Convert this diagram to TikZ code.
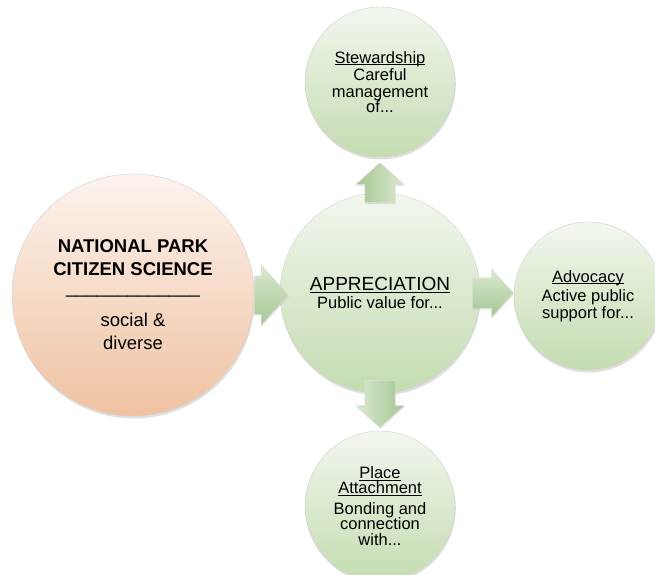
\documentclass[tikz,border=0pt]{standalone}
\usepackage{fontspec}
\setmainfont{Liberation Sans}
\usetikzlibrary{shapes.arrows,shadows}

\definecolor{leafTop}{HTML}{F2F7EE}
\definecolor{leafBot}{HTML}{C4DCB0}
\definecolor{peachTop}{HTML}{FCF3EE}
\definecolor{peachBot}{HTML}{EFC2A0}
\definecolor{flowTop}{HTML}{DAE9CF}
\definecolor{flowBot}{HTML}{A6C693}

\newcommand{\ultitle}[1]{\setbox0=\hbox{#1}\rlap{\rule[-2pt]{\wd0}{0.8pt}}\box0}

\begin{document}
\begin{tikzpicture}[x=1pt,y=-1pt,thin]
        \tikzstyle{bubble}=[circle,draw=black!18,top color=leafTop,bottom color=leafBot,
                            drop shadow={opacity=.25,shadow xshift=.8pt,shadow yshift=-2.5pt},
                            align=center,inner sep=0pt,text=black]
        \tikzstyle{flow}=[single arrow,single arrow head extend=9pt,single arrow tip angle=96,
                          single arrow head indent=0pt,inner xsep=0pt,inner ysep=15pt,
                          draw=black!12,top color=flowTop,bottom color=flowBot,
                          drop shadow={opacity=.2,shadow xshift=.5pt,shadow yshift=-1.5pt}]
        \clip (0,0) rectangle (655,574);
        \node[bubble,minimum size=242pt,top color=peachTop,bottom color=peachBot,
              font=\fontsize{18.5}{23}\selectfont] (park) at (133,295)
            {\bfseries NATIONAL PARK\\\bfseries CITIZEN SCIENCE\\[-5pt]
             \mdseries\_\_\_\_\_\_\_\_\_\_\_\_\_\\[10pt]social \&\\diverse};
        \node[bubble,minimum size=200pt,font=\fontsize{16.5}{18}\selectfont] (apprec) at (380,293)
            {{\fontsize{19}{18}\selectfont\ultitle{APPRECIATION}}\\Public value for...};
        \node[bubble,minimum size=150pt,font=\fontsize{16.5}{16.5}\selectfont] (steward) at (380,82)
            {\ultitle{Stewardship}\\[1pt]Careful\\management\\[-1pt]of...};
        \node[bubble,minimum size=148pt,font=\fontsize{16.5}{16.5}\selectfont] (advoc) at (588,296)
            {\ultitle{Advocacy}\\[3pt]Active public\\support for...};
        \node[bubble,minimum size=150pt,font=\fontsize{16.5}{15.5}\selectfont] (place) at (380,506)
            {\ultitle{Place}\\\ultitle{Attachment}\\[5pt]Bonding and\\connection\\with...};

        \node[flow,anchor=tail,minimum height=34pt,inner ysep=19pt,
              single arrow head extend=11pt] (toApprec) at (park.east) {};
        \node[flow,anchor=tail,rotate=90,minimum height=40pt,
              left color=flowBot,right color=flowTop] (toSteward) at ([yshift=-10pt]apprec.north) {};
        \node[flow,anchor=tail,minimum height=41pt] (toAdvoc) at ([xshift=-8pt]apprec.east) {};
        \node[flow,anchor=tail,rotate=-90,minimum height=47pt,
              left color=flowTop,right color=flowBot] (toPlace) at ([yshift=13pt]apprec.south) {};
\end{tikzpicture}
\end{document}
